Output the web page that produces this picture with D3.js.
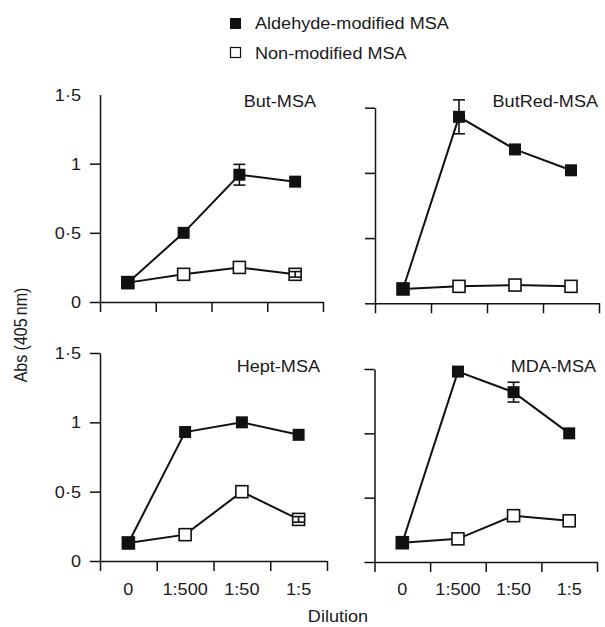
<!DOCTYPE html>
<html>
<head>
<meta charset="utf-8">
<script src="https://cdn.jsdelivr.net/npm/d3@7"></script>
<style>
  body { margin: 0; background: #fff; }
  svg text { font-family: "Liberation Sans", Arial, sans-serif; fill: #1a1a1a; }
</style>
</head>
<body>
<div id="chart"></div>
<script>
// dilution categories and panel names
var categories = ["0", "1:500", "1:50", "1:5"];
var panelNames = ["But-MSA", "ButRed-MSA", "Hept-MSA", "MDA-MSA"];
var yTicks = [0, 0.5, 1, 1.5];
var yTickLabels = ["0", "0\u00b75", "1", "1\u00b75"];

// aldehyde-modified MSA, one array per panel
var aldButMSA    = [0.14, 0.50, 0.92, 0.87];
var aldButRedMSA = [0.11, 1.43, 1.18, 1.02];
var aldHeptMSA   = [0.13, 0.93, 1.00, 0.91];
var aldMdaMSA    = [0.15, 1.48, 1.32, 1.00];
var aldButErr    = [0, 0, 0.075, 0];
var aldButRedErr = [0, 0.13, 0, 0];
var aldHeptErr   = [0, 0, 0, 0];
var aldMdaErr    = [0, 0, 0.077, 0];

// non-modified MSA
var nonButMSA    = [0.14, 0.20, 0.25, 0.20];
var nonButRedMSA = [0.11, 0.13, 0.14, 0.13];
var nonHeptMSA   = [0.13, 0.19, 0.50, 0.30];
var nonMdaMSA    = [0.15, 0.18, 0.36, 0.32];
var nonButErr    = [0, 0, 0, 0.02];
var nonButRedErr = [0, 0, 0, 0];
var nonHeptErr   = [0, 0, 0, 0.02];
var nonMdaErr    = [0, 0, 0, 0];

var width = 605, height = 627;
var sx = 1.13; // the scanned figure is a little wider than it is tall
var fontSize = 16;

var svg = d3.select("#chart").append("svg")
  .attr("width", width).attr("height", height);

function label(x, y, str, anchor, rotate) {
  return svg.append("text")
    .attr("transform", "translate(" + x + "," + y + ") scale(" + sx + ",1)" + (rotate ? " rotate(" + rotate + ")" : ""))
    .attr("text-anchor", anchor || "start")
    .style("font-size", fontSize + "px")
    .text(str);
}

// panel frames (pixel boxes of each small plot)
var panels = [
  {name: panelNames[0], x0: 100, x1: 323, y0: 302, y1: 94.5, ald: aldButMSA, aldErr: aldButErr, non: nonButMSA, nonErr: nonButErr, left: true, bottom: false},
  {name: panelNames[1], x0: 375, x1: 599, y0: 303.3, y1: 107.7, ald: aldButRedMSA, aldErr: aldButRedErr, non: nonButRedMSA, nonErr: nonButRedErr, left: false, bottom: false},
  {name: panelNames[2], x0: 100, x1: 327, y0: 561, y1: 353, ald: aldHeptMSA, aldErr: aldHeptErr, non: nonHeptMSA, nonErr: nonHeptErr, left: true, bottom: true},
  {name: panelNames[3], x0: 374.5, x1: 597, y0: 562, y1: 369, ald: aldMdaMSA, aldErr: aldMdaErr, non: nonMdaMSA, nonErr: nonMdaErr, left: false, bottom: true}
];

var markerSize = 12;

panels.forEach(function(p, pi) {
  var x = d3.scaleLinear().domain([0, categories.length]).range([p.x0, p.x1]);
  var y = d3.scaleLinear().domain([0, 1.5]).range([p.y0, p.y1]);
  var g = svg.append("g");

  var xAxis = d3.axisBottom(x).tickValues(d3.range(categories.length + 1))
    .tickSize(10).tickSizeOuter(0).tickFormat("");
  // first panel has no tick mark at the top of its axis
  var yAxis = d3.axisLeft(y).tickValues(pi === 0 ? yTicks.slice(0, 3) : yTicks)
    .tickSize(10).tickSizeOuter(0).tickFormat("");

  g.append("g").attr("transform", "translate(0," + p.y0 + ")").call(xAxis);
  g.append("g").attr("transform", "translate(" + p.x0 + ",0)").call(yAxis);
  g.selectAll(".domain, .tick line").attr("stroke", "#111").attr("stroke-width", 1.5);

  if (p.left) {
    yTicks.forEach(function(t, i) {
      label(p.x0 - 19, y(t) + 6, yTickLabels[i], "end");
    });
  }
  if (p.bottom) {
    categories.forEach(function(c, i) {
      label(x(i + 0.5), 595, c, "middle");
    });
  }

  label(p.x1 - 5 + (p.left ? -2 : 4), p.bottom ? 371.5 : 106.5, p.name, "end");

  var line = d3.line().x(function(d, i) { return x(i + 0.5); }).y(function(d) { return y(d); });

  [["non", "nonErr", false], ["ald", "aldErr", true]].forEach(function(s) {
    var vals = p[s[0]], errs = p[s[1]], filled = s[2];
    g.append("path").datum(vals).attr("d", line)
      .attr("fill", "none").attr("stroke", "#111").attr("stroke-width", 2);

    g.selectAll(null).data(vals).enter().append("rect")
      .attr("x", function(d, i) { return x(i + 0.5) - markerSize / 2; })
      .attr("y", function(d) { return y(d) - markerSize / 2; })
      .attr("width", markerSize).attr("height", markerSize)
      .attr("fill", filled ? "#111" : "#fff")
      .attr("stroke", "#111").attr("stroke-width", filled ? 0 : 1.6);

    // error bars
    vals.forEach(function(d, i) {
      var e = errs[i];
      if (!e) return;
      var cx = x(i + 0.5);
      g.append("line").attr("x1", cx).attr("x2", cx)
        .attr("y1", y(d - e)).attr("y2", y(d + e))
        .attr("stroke", "#111").attr("stroke-width", 1.6);
      [d - e, d + e].forEach(function(v) {
        g.append("line").attr("x1", cx - 6).attr("x2", cx + 6)
          .attr("y1", y(v)).attr("y2", y(v))
          .attr("stroke", "#111").attr("stroke-width", 1.6);
      });
    });
  });
});

// legend
svg.append("rect").attr("x", 230).attr("y", 18).attr("width", 11).attr("height", 11).attr("fill", "#111");
svg.append("rect").attr("x", 230.5).attr("y", 47.5).attr("width", 10).attr("height", 10)
  .attr("fill", "#fff").attr("stroke", "#111").attr("stroke-width", 1.2);
label(255, 28.5, "Aldehyde-modified MSA");
label(255, 58.5, "Non-modified MSA");

// axis titles
label(338, 622, "Dilution", "middle");
label(27, 335, "Abs (405\u2009nm)", "middle", -90);
</script>
</body>
</html>
